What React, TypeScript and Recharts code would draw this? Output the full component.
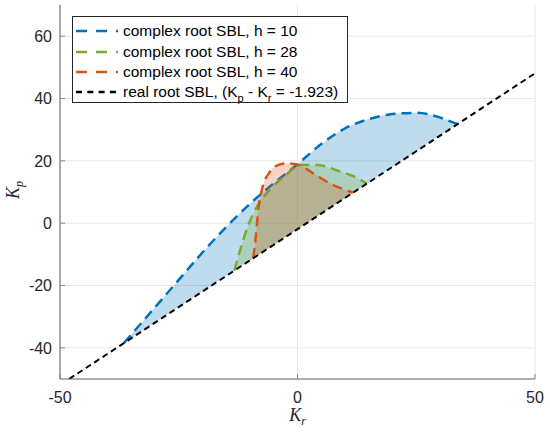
import { ComposedChart, Area, Line, XAxis, YAxis, CartesianGrid, Legend } from 'recharts'

// complex root stability boundary, h = 10
const blueKr = [-36.5, -30, -25, -20, -15, -10, -5, 0, 5, 10, 15, 20, 25, 29.4, 32.3, 33.7]
const blueKp = [-38.4, -27.0, -18.2, -9.4, -1.2, 6.2, 12.8, 18.9, 25.4, 30.4, 33.4, 35.0, 35.4, 34.2, 32.6, 31.8]

// h = 28
const greenKr = [-13.3, -12.1, -10.6, -8.4, -5.8, -2.3, 0.5, 4.0, 8.6, 12.0, 14.6]
const greenKp = [-15.2, -8.8, -1.6, 5.6, 10.8, 15.6, 18.7, 18.7, 16.8, 14.9, 12.7]

// h = 40
const orangeKr = [-9.3, -8.7, -8.3, -7.5, -5.8, -4.0, -2.3, 0.2, 3.3, 6.8, 10.0, 11.7]
const orangeKp = [-11.2, -3.2, 3.7, 10.7, 16.5, 18.7, 19.2, 18.7, 16.0, 12.8, 10.7, 9.8]

// real root boundary: Kp - Kr = -1.923
const realOffset = -1.923
const realKr = [-48.077, 50]
const realKp = [-50, 48.077]

const xTicks = [-50, 0, 50]
const yTicks = [-40, -20, 0, 20, 40, 60]
const legendLabels = ['complex root SBL, h = 10', 'complex root SBL, h = 28', 'complex root SBL, h = 40']

const BLUE = '#0072BD'
const GREEN = '#77AC30'
const ORANGE = '#D95319'
const FONT = '"Liberation Sans", Arial, Helvetica, sans-serif'
const SERIF = '"Liberation Serif", "Times New Roman", serif'

const toRows = (kr: number[], kp: number[]) =>
  kr.map((k, i) => ({ kr: k, kp: kp[i], lo: k + realOffset }))

const blueData = toRows(blueKr, blueKp)
const greenData = toRows(greenKr, greenKp)
const orangeData = toRows(orangeKr, orangeKp)
const realData = realKr.map((k, i) => ({ kr: k, kp: realKp[i] }))

const range = (d: any) => [d.lo, d.kp]

const YTick = ({ x, y, payload }: any) => (
  <g>
    <line x1={x + 8} x2={x + 13} y1={y} y2={y} stroke="#8a8a8a" />
    <text x={x} y={y} dy="0.355em" textAnchor="end" fill="#262626" fontSize={16} fontFamily={FONT}>
      {payload.value}
    </text>
  </g>
)

const XTick = ({ x, y, payload }: any) => (
  <g>
    <line x1={x} x2={x} y1={y - 13} y2={y - 18} stroke="#8a8a8a" />
    <text x={x} y={y} dy="0.71em" textAnchor="middle" fill="#262626" fontSize={16} fontFamily={FONT}>
      {payload.value}
    </text>
  </g>
)

const Sample = ({ color, dash }: { color: string; dash: string }) => (
  <svg width={44} height={8} style={{ marginRight: 3, flexShrink: 0 }}>
    <line x1={0} x2={42} y1={4} y2={4} stroke={color} strokeWidth={2.5} strokeDasharray={dash} />
  </svg>
)

const sub = { fontSize: 11, position: 'relative' as const, top: 5 }

const LegendBox = () => (
  <div
    style={{
      boxSizing: 'border-box', width: 276, height: 87, border: '1px solid #262626',
      background: '#fff', padding: '4px 0 0 3px', fontFamily: FONT, fontSize: 15.5, color: '#000',
    }}
  >
    {[BLUE, GREEN, ORANGE].map((c, i) => (
      <div key={i} style={{ display: 'flex', alignItems: 'center', height: 20.4, whiteSpace: 'nowrap' }}>
        <Sample color={c} dash="11 9" />
        <span>{legendLabels[i]}</span>
      </div>
    ))}
    <div style={{ display: 'flex', alignItems: 'center', height: 20.4, whiteSpace: 'nowrap' }}>
      <Sample color="#000" dash="6 5.3" />
      <span>
        real root SBL, (K<span style={sub}>p</span> - K<span style={sub}>r</span> = -1.923)
      </span>
    </div>
  </div>
)

export default function App() {
  return (
    <div style={{ position: 'absolute', left: 0, top: 0, background: '#fff' }}>
      <ComposedChart width={550} height={433} margin={{ top: 5, right: 15, bottom: 0, left: 0 }}>
        <CartesianGrid stroke="#e6e6e6" horizontalValues={yTicks} verticalValues={xTicks} />
        <XAxis
          type="number"
          dataKey="kr"
          domain={[-50, 50]}
          ticks={xTicks}
          allowDataOverflow
          height={54}
          tickSize={0}
          tickMargin={13}
          tick={<XTick />}
          stroke="#5c5c5c"
          label={{
            content: ({ viewBox }: any) => (
              <text x={viewBox.x + viewBox.width / 2} y={421} textAnchor="middle" fontFamily={SERIF} fontStyle="italic" fontSize={18} fill="#262626">
                K<tspan fontSize={12} dy={4}>r</tspan>
              </text>
            ),
          }}
        />
        <YAxis
          type="number"
          domain={[-50, 70]}
          ticks={yTicks}
          allowDataOverflow
          width={60}
          tickSize={0}
          tickMargin={8}
          tick={<YTick />}
          stroke="#5c5c5c"
          label={{
            content: () => (
              <text x={19} y={190} transform="rotate(-90 19 190)" textAnchor="middle" fontFamily={SERIF} fontStyle="italic" fontSize={18} fill="#262626">
                K<tspan fontSize={12} dy={4}>p</tspan>
              </text>
            ),
          }}
        />
        <Legend content={<LegendBox />} layout="horizontal" verticalAlign="middle" align="center" wrapperStyle={{ left: 72, top: 16, width: 276, height: 87 }} />

        <Area data={blueData} dataKey={range} type="monotone" stroke="none" fill={BLUE} fillOpacity={0.25} isAnimationActive={false} zIndex={101} />
        <Line data={blueData} dataKey="kp" type="monotone" stroke={BLUE} strokeWidth={2.5} strokeDasharray="10 6" dot={false} activeDot={false} isAnimationActive={false} zIndex={102} />
        <Area data={greenData} dataKey={range} type="monotone" stroke="none" fill={GREEN} fillOpacity={0.25} isAnimationActive={false} zIndex={103} />
        <Line data={greenData} dataKey="kp" type="monotone" stroke={GREEN} strokeWidth={2.5} strokeDasharray="10 6" dot={false} activeDot={false} isAnimationActive={false} zIndex={104} />
        <Area data={orangeData} dataKey={range} type="monotone" stroke="none" fill={ORANGE} fillOpacity={0.25} isAnimationActive={false} zIndex={105} />
        <Line data={orangeData} dataKey="kp" type="monotone" stroke={ORANGE} strokeWidth={2.5} strokeDasharray="10 6" dot={false} activeDot={false} isAnimationActive={false} zIndex={106} />
        <Line data={realData} dataKey="kp" type="linear" stroke="#000" strokeWidth={2} strokeDasharray="6 4" dot={false} activeDot={false} isAnimationActive={false} zIndex={107} />
      </ComposedChart>
    </div>
  )
}
